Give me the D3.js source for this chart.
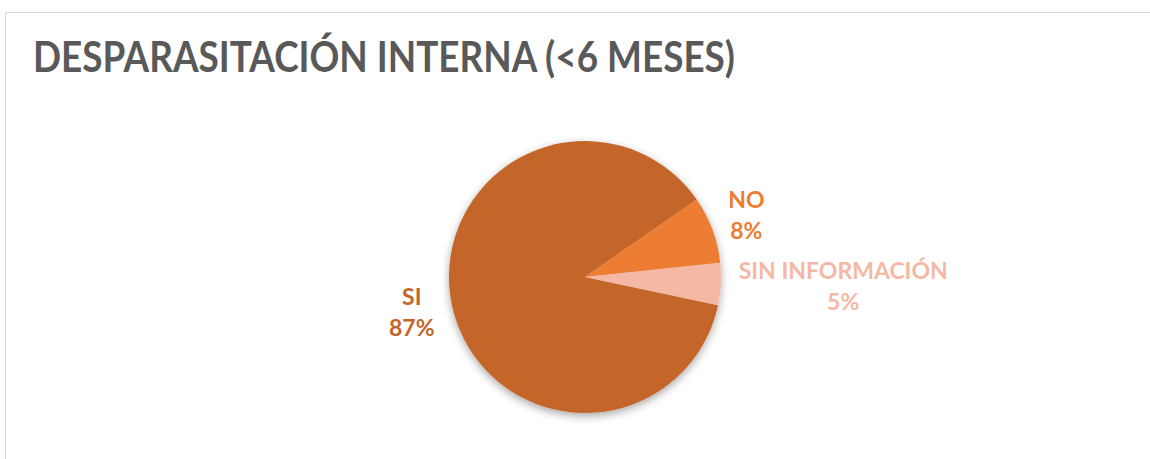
<!DOCTYPE html>
<html><head><meta charset="utf-8">
<script src="https://cdn.jsdelivr.net/npm/d3@7"></script>
<style>html,body{margin:0;padding:0;background:#fff;overflow:hidden}</style>
</head><body><svg id="c" width="1150" height="459"></svg>
<script>
const title = "DESPARASITACIÓN INTERNA (<6 MESES)";
const categories = ["SI", "NO", "SIN INFORMACIÓN"];
const values = [87, 8, 5];
const colors = ["#C4652A", "#ED7D31", "#F4B8A4"];
const labelColors = ["#C4652A", "#ED7D31", "#F4B8A4"];

const svg = d3.select("#c");
const W = 1150, H = 459;
svg.append("rect").attr("x",0).attr("y",0).attr("width",W).attr("height",H).attr("fill","#fff");
svg.append("rect").attr("x",5.5).attr("y",12.5).attr("width",W+20).attr("height",H+20)
  .attr("fill","none").attr("stroke","#d9d9d9").attr("stroke-width",1);

const defs = svg.append("defs");
const f = defs.append("filter").attr("id","sh").attr("x","-20%").attr("y","-20%").attr("width","140%").attr("height","140%");
f.append("feDropShadow").attr("dx",0).attr("dy",3).attr("stdDeviation",4).attr("flood-color","#000").attr("flood-opacity",0.35);

svg.append("text").attr("x",33).attr("y",72)
  .attr("font-family","Lato, 'Open Sans', sans-serif").attr("font-weight","bold")
  .attr("font-size",42).attr("fill","#595959")
  .attr("textLength",702).attr("lengthAdjust","spacingAndGlyphs")
  .text(title);

const cx = 585, cy = 277, R = 136;
const startDeg = 102;
const pie = d3.pie().sort(null).value(d=>d)
  .startAngle(startDeg*Math.PI/180).endAngle((startDeg+360)*Math.PI/180);
const arcs = pie(values);
const arc = d3.arc().innerRadius(0).outerRadius(R);
const g = svg.append("g").attr("transform",`translate(${cx},${cy})`);
g.append("g").attr("filter","url(#sh)").selectAll("path").data(arcs).enter().append("path")
  .attr("d",arc).attr("fill",(d,i)=>colors[i]);

const total = d3.sum(values);
const fs = 23, lh = 31, rl = R + 18;
arcs.forEach((d,i)=>{
  const a = (d.startAngle+d.endAngle)/2;
  const px = Math.sin(a)*rl, py = -Math.cos(a)*rl;
  const t = g.append("text").attr("font-family","Lato, 'Open Sans', sans-serif")
    .attr("font-weight","bold").attr("font-size",fs).attr("fill",labelColors[i])
    .attr("text-anchor","middle");
  const l1 = t.append("tspan").text(categories[i]);
  const l2 = t.append("tspan").text(Math.round(values[i]/total*100)+"%");
  const w = Math.max(l1.node().getComputedTextLength(), l2.node().getComputedTextLength());
  const hh = (lh + fs*0.72)/2;
  const bx = px + Math.sin(a)*w/2, by = py - Math.cos(a)*hh;
  const top = by - hh;
  l1.attr("x",bx).attr("y",top + fs*0.72);
  l2.attr("x",bx).attr("y",top + fs*0.72 + lh);
});
</script></body></html>
